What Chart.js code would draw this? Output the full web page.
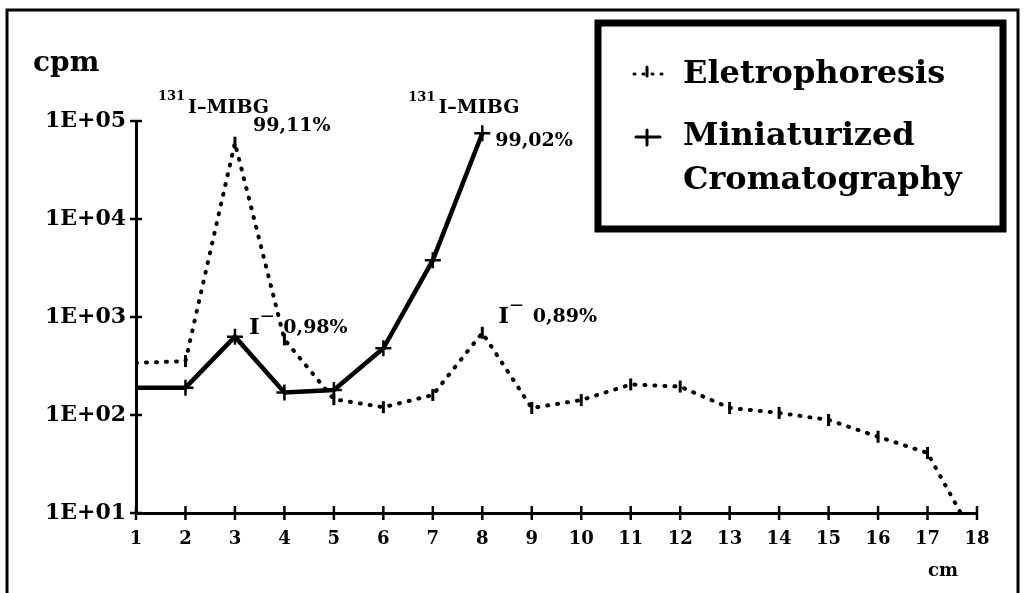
<!DOCTYPE html>
<html>
<head>
<meta charset="utf-8">
<script src="https://cdn.jsdelivr.net/npm/chart.js@4"></script>
<style>
  body { margin: 0; background: #fff; }
  #wrap { position: relative; width: 1023px; height: 593px; }
</style>
</head>
<body>
<div id="wrap"><canvas id="cpmChart"></canvas></div>
<script>
// distance along the strip (cm)
const positions = [1, 2, 3, 4, 5, 6, 7, 8, 9, 10, 11, 12, 13, 14, 15, 16, 17, 18];
// counts per minute
const eletrophoresis = [340, 355, 60000, 590, 145, 120, 160, 690, 118, 142, 205, 195, 118, 105, 89, 60, 41, 5];
const cromatography = [190, 190, 630, 170, 180, 480, 3800, 75000];
const yTicks = [1e1, 1e2, 1e3, 1e4, 1e5];
const seriesNames = ['Eletrophoresis', 'Miniaturized', 'Cromatography'];

const FONT = '"DejaVu Serif", serif';

// labels on the peaks: [dataset, index, dx, dy, parts]
const peakLabels = [
    [0, 2, -77, -35, [{ t: '131', sup: true }, { t: 'I\u2013MIBG' }]],
    [0, 2, 18, -17, [{ t: '99,11%' }]],
    [1, 7, -74, -25, [{ t: '131', sup: true }, { t: 'I\u2013MIBG' }]],
    [1, 7, 13, 8, [{ t: '99,02%' }]],
    [1, 2, 14, -9, [{ t: 'I', big: true }, { t: '\u2014', sup: true }, { t: ' 0,98%' }]],
    [0, 7, 16, -16, [{ t: 'I', big: true }, { t: '\u2014', sup: true }, { t: ' 0,89%' }]]
];

function drawParts(ctx, parts, x, y) {
    ctx.textBaseline = 'middle';
    ctx.textAlign = 'left';
    parts.forEach(p => {
        if (p.sup) {
            ctx.font = 'bold 13px ' + FONT;
            ctx.fillText(p.t, x, y - 11);
        } else {
            ctx.font = (p.big ? 'bold 23px ' : 'bold 19px ') + FONT;
            ctx.fillText(p.t, x, y);
        }
        x += ctx.measureText(p.t).width + (p.sup ? 3 : 1);
    });
}

const extras = {
    id: 'extras',
    beforeDraw(chart) {
        const ctx = chart.ctx;
        ctx.save();
        ctx.fillStyle = '#fff';
        ctx.fillRect(0, 0, chart.width, chart.height);
        // outer frame
        ctx.strokeStyle = '#000';
        ctx.lineWidth = 3;
        ctx.beginPath();
        ctx.moveTo(7, chart.height);
        ctx.lineTo(7, 10);
        ctx.lineTo(1018, 10);
        ctx.lineTo(1018, chart.height);
        ctx.stroke();
        ctx.restore();
    },
    afterDraw(chart) {
        const ctx = chart.ctx;
        const xs = chart.scales.x, ys = chart.scales.y;
        ctx.save();
        ctx.strokeStyle = '#000';
        ctx.fillStyle = '#000';
        ctx.lineWidth = 2.5;
        // ticks crossing the axes
        ys.ticks.forEach(t => {
            const py = ys.getPixelForValue(t.value);
            ctx.beginPath();
            ctx.moveTo(xs.left - 6, py);
            ctx.lineTo(xs.left + 6, py);
            ctx.stroke();
        });
        xs.ticks.forEach(t => {
            const px = xs.getPixelForValue(t.value);
            ctx.beginPath();
            ctx.moveTo(px, ys.bottom - 7);
            ctx.lineTo(px, ys.bottom + 7);
            ctx.stroke();
        });

        // axis captions
        ctx.textBaseline = 'middle';
        ctx.font = 'bold 28px ' + FONT;
        ctx.fillText('cpm', 33, 64);
        ctx.font = 'bold 18px ' + FONT;
        ctx.fillText('cm', 928, 571);

        // peak labels
        peakLabels.forEach(([ds, i, dx, dy, parts]) => {
            const pt = chart.getDatasetMeta(ds).data[i];
            drawParts(ctx, parts, pt.x + dx, pt.y + dy);
        });

        // legend box
        ctx.lineWidth = 7;
        ctx.strokeRect(598, 23, 405, 206);
        ctx.font = 'bold 32px ' + FONT;
        ctx.fillText(seriesNames[0], 683, 75);
        ctx.fillText(seriesNames[1], 683, 137);
        ctx.fillText(seriesNames[2], 683, 181);
        // dotted sample
        ctx.lineWidth = 3;
        ctx.lineCap = 'round';
        ctx.setLineDash([1, 8]);
        ctx.beginPath();
        ctx.moveTo(634, 74);
        ctx.lineTo(662, 74);
        ctx.stroke();
        ctx.setLineDash([]);
        ctx.beginPath();
        ctx.moveTo(647, 67);
        ctx.lineTo(647, 76);
        ctx.stroke();
        // plus sample
        ctx.beginPath();
        ctx.moveTo(636, 137);
        ctx.lineTo(660, 137);
        ctx.moveTo(647, 130);
        ctx.lineTo(647, 145);
        ctx.stroke();
        ctx.restore();
    }
};

new Chart(document.getElementById('cpmChart'), {
    type: 'line',
    data: {
        datasets: [{
            label: seriesNames[0],
            data: eletrophoresis.map((v, i) => ({ x: positions[i], y: v })),
            borderColor: '#000',
            borderWidth: 4,
            borderDash: [1, 9],
            borderCapStyle: 'round',
            pointStyle: 'line',
            rotation: 90,
            pointRadius: 6,
            pointBorderWidth: 3,
            pointBorderColor: '#000',
            tension: 0
        }, {
            label: seriesNames[1] + ' ' + seriesNames[2],
            data: cromatography.map((v, i) => ({ x: positions[i], y: v })),
            borderColor: '#000',
            borderWidth: 4.5,
            pointStyle: 'cross',
            pointRadius: 8,
            pointBorderWidth: 2.5,
            pointBorderColor: '#000',
            tension: 0
        }]
    },
    options: {
        responsive: true,
        maintainAspectRatio: false,
        animation: false,
        layout: { padding: { left: 0, top: 121, right: 46, bottom: 0 } },
        plugins: { legend: { display: false }, tooltip: { enabled: false } },
        scales: {
            x: {
                type: 'linear',
                min: positions[0],
                max: positions[positions.length - 1],
                afterFit: s => { s.height = 80; },
                afterBuildTicks: s => { s.ticks = positions.map(v => ({ value: v })); },
                grid: { display: false, drawTicks: false },
                border: { display: true, color: '#000', width: 3 },
                ticks: { padding: 16, color: '#000', font: { family: FONT, size: 18, weight: 'bold' } }
            },
            y: {
                type: 'logarithmic',
                min: yTicks[0],
                max: yTicks[yTicks.length - 1],
                afterFit: s => { s.width = 136; },
                afterBuildTicks: s => { s.ticks = yTicks.map(v => ({ value: v })); },
                grid: { display: false, drawTicks: false },
                border: { display: true, color: '#000', width: 3 },
                ticks: {
                    padding: 10,
                    color: '#000',
                    font: { family: FONT, size: 22, weight: 'bold' },
                    callback: v => '1E+' + String(Math.round(Math.log10(v))).padStart(2, '0')
                }
            }
        }
    },
    plugins: [extras]
});
</script>
</body>
</html>
